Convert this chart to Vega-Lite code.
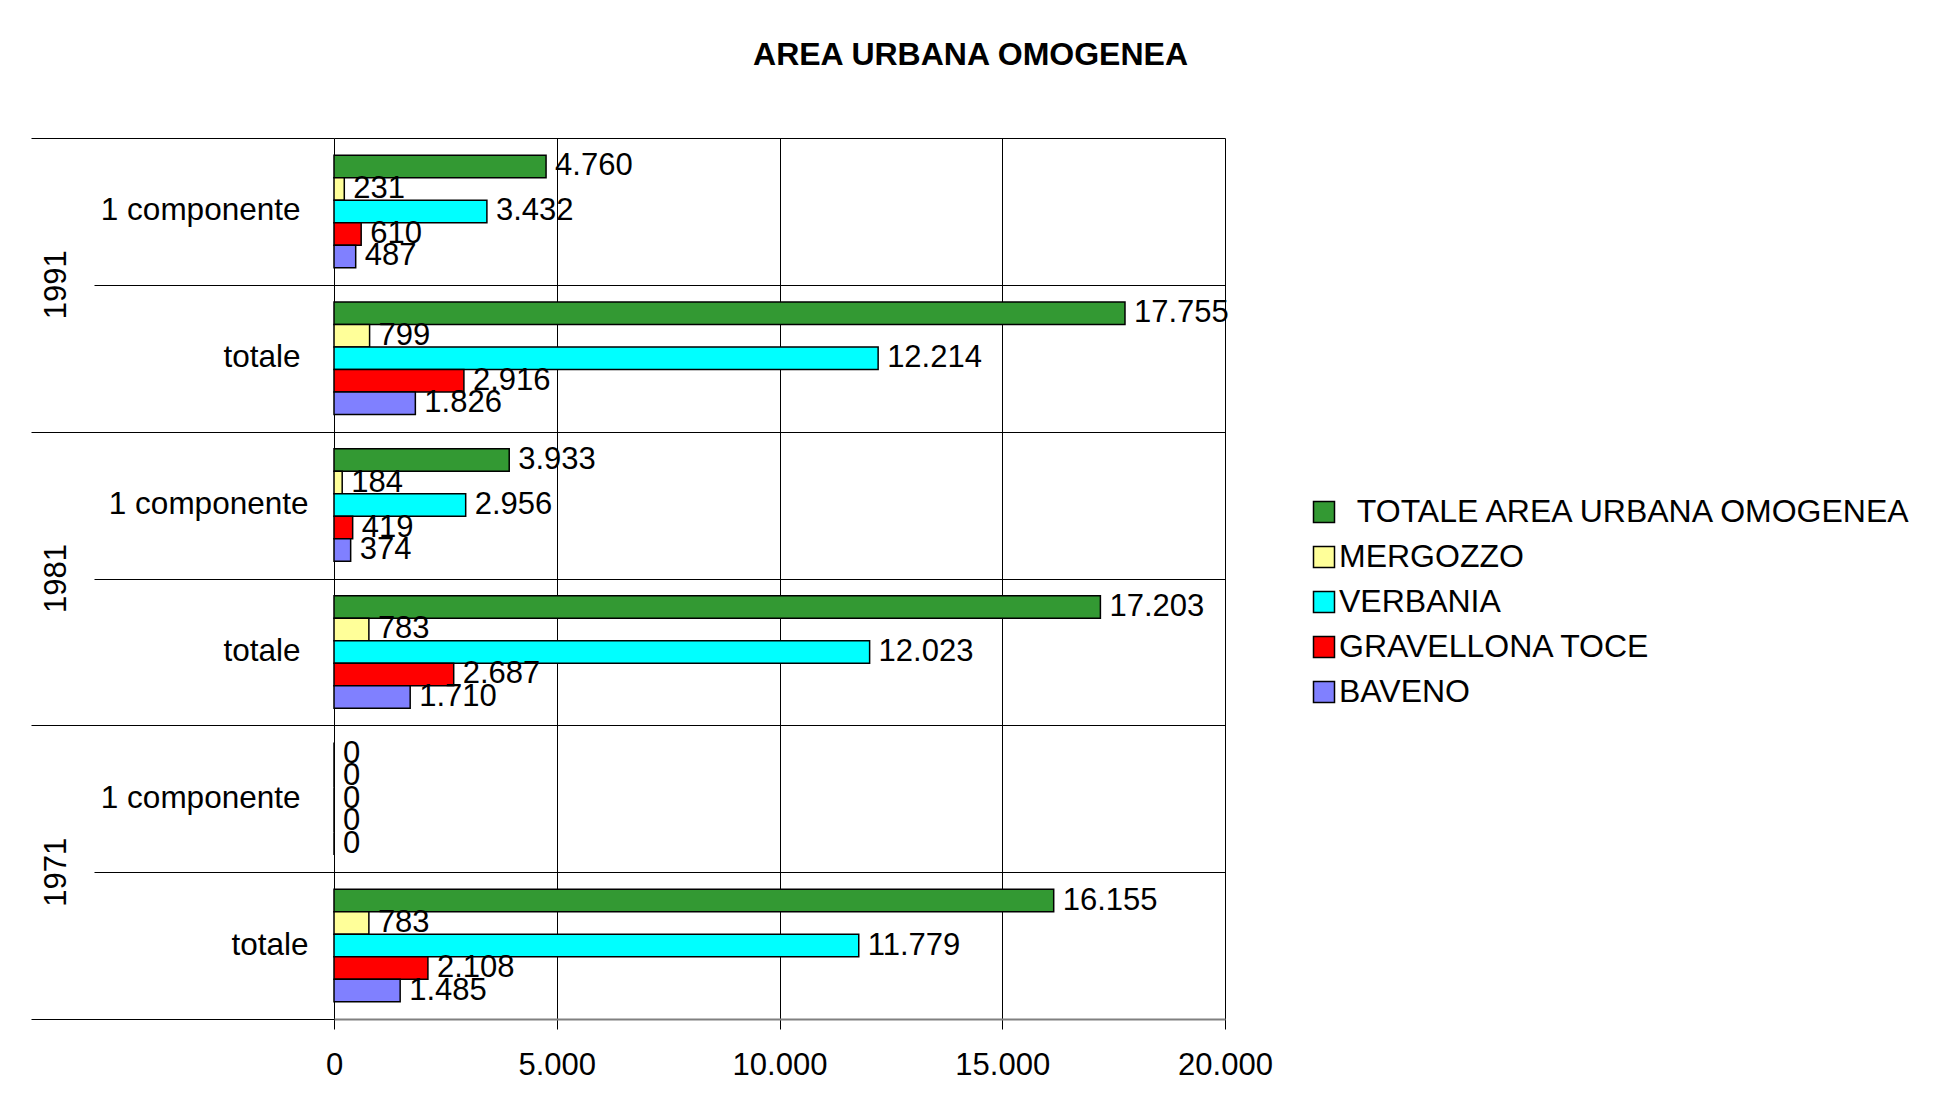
{
  "$schema": "https://vega.github.io/schema/vega-lite/v6.json",
  "autosize": "none",
  "width": 891,
  "height": 881,
  "padding": {"left": 334, "top": 138, "right": 712, "bottom": 90},
  "background": "white",
  "title": {
    "text": "AREA URBANA OMOGENEA",
    "font": "Liberation Sans",
    "fontSize": 32,
    "fontWeight": "bold",
    "color": "black",
    "anchor": "middle",
    "frame": "group",
    "dx": 191,
    "baseline": "middle",
    "offset": 51
  },
  "config": {
    "locale": {"number": {"decimal": ",", "thousands": ".", "grouping": [3], "currency": ["", " €"]}},
    "view": {"stroke": null},
    "font": "Liberation Sans"
  },
  "data": {
    "values": [
      {"key": "1991|1 componente", "serie": "TOTALE AREA URBANA OMOGENEA", "valore": 4760},
      {"key": "1991|1 componente", "serie": "MERGOZZO", "valore": 231},
      {"key": "1991|1 componente", "serie": "VERBANIA", "valore": 3432},
      {"key": "1991|1 componente", "serie": "GRAVELLONA TOCE", "valore": 610},
      {"key": "1991|1 componente", "serie": "BAVENO", "valore": 487},
      {"key": "1991|totale", "serie": "TOTALE AREA URBANA OMOGENEA", "valore": 17755},
      {"key": "1991|totale", "serie": "MERGOZZO", "valore": 799},
      {"key": "1991|totale", "serie": "VERBANIA", "valore": 12214},
      {"key": "1991|totale", "serie": "GRAVELLONA TOCE", "valore": 2916},
      {"key": "1991|totale", "serie": "BAVENO", "valore": 1826},
      {"key": "1981|1 componente", "serie": "TOTALE AREA URBANA OMOGENEA", "valore": 3933},
      {"key": "1981|1 componente", "serie": "MERGOZZO", "valore": 184},
      {"key": "1981|1 componente", "serie": "VERBANIA", "valore": 2956},
      {"key": "1981|1 componente", "serie": "GRAVELLONA TOCE", "valore": 419},
      {"key": "1981|1 componente", "serie": "BAVENO", "valore": 374},
      {"key": "1981|totale", "serie": "TOTALE AREA URBANA OMOGENEA", "valore": 17203},
      {"key": "1981|totale", "serie": "MERGOZZO", "valore": 783},
      {"key": "1981|totale", "serie": "VERBANIA", "valore": 12023},
      {"key": "1981|totale", "serie": "GRAVELLONA TOCE", "valore": 2687},
      {"key": "1981|totale", "serie": "BAVENO", "valore": 1710},
      {"key": "1971|1 componente", "serie": "TOTALE AREA URBANA OMOGENEA", "valore": 0},
      {"key": "1971|1 componente", "serie": "MERGOZZO", "valore": 0},
      {"key": "1971|1 componente", "serie": "VERBANIA", "valore": 0},
      {"key": "1971|1 componente", "serie": "GRAVELLONA TOCE", "valore": 0},
      {"key": "1971|1 componente", "serie": "BAVENO", "valore": 0},
      {"key": "1971|totale", "serie": "TOTALE AREA URBANA OMOGENEA", "valore": 16155},
      {"key": "1971|totale", "serie": "MERGOZZO", "valore": 783},
      {"key": "1971|totale", "serie": "VERBANIA", "valore": 11779},
      {"key": "1971|totale", "serie": "GRAVELLONA TOCE", "valore": 2108},
      {"key": "1971|totale", "serie": "BAVENO", "valore": 1485}
    ]
  },
  "encoding": {
    "y": {
      "field": "key",
      "type": "nominal",
      "sort": ["1991|1 componente", "1991|totale", "1981|1 componente", "1981|totale", "1971|1 componente", "1971|totale"],
      "scale": {"paddingInner": 0, "paddingOuter": 0}
    },
    "yOffset": {
      "field": "serie",
      "type": "nominal",
      "sort": ["TOTALE AREA URBANA OMOGENEA", "MERGOZZO", "VERBANIA", "GRAVELLONA TOCE", "BAVENO"],
      "scale": {"paddingInner": 0, "paddingOuter": 0.763}
    },
    "x": {
      "field": "valore",
      "type": "quantitative",
      "scale": {"domain": [0, 20000], "nice": false},
      "axis": {
        "title": null,
        "values": [0, 5000, 10000, 15000, 20000],
        "format": ",d",
        "grid": true,
        "gridColor": "black",
        "gridWidth": 1,
        "gridOpacity": 1,
        "domain": true,
        "domainColor": "#808080",
        "domainWidth": 2,
        "ticks": true,
        "tickColor": "black",
        "tickSize": 10,
        "labelFontSize": 31,
        "labelColor": "black",
        "labelPadding": 21,
        "labelFlush": false
      }
    }
  },
  "layer": [
    {
      "mark": {"type": "bar", "stroke": "black", "strokeWidth": 1.5},
      "encoding": {
        "y": {
          "field": "key",
          "type": "nominal",
          "sort": ["1991|1 componente", "1991|totale", "1981|1 componente", "1981|totale", "1971|1 componente", "1971|totale"],
          "axis": {
            "orient": "left",
            "title": null,
            "labels": false,
            "domain": false,
            "tickBand": "extent",
            "grid": true,
            "gridColor": "black",
            "gridWidth": 1,
            "gridOpacity": 1,
            "ticks": true,
            "tickColor": "black",
            "tickWidth": 1,
            "tickSize": {"condition": {"test": "indexof(datum.value || '', 'componente') >= 0", "value": 240}, "value": 303}
          }
        },
        "color": {
          "field": "serie",
          "type": "nominal",
          "sort": ["TOTALE AREA URBANA OMOGENEA", "MERGOZZO", "VERBANIA", "GRAVELLONA TOCE", "BAVENO"],
          "scale": {
            "domain": ["TOTALE AREA URBANA OMOGENEA", "MERGOZZO", "VERBANIA", "GRAVELLONA TOCE", "BAVENO"],
            "range": ["#339933", "#FFFF99", "#00FFFF", "#FF0000", "#8080FF"]
          },
          "legend": {
            "title": null,
            "orient": "none",
            "legendX": 974,
            "legendY": 358,
            "padding": 0,
            "symbolType": "square",
            "symbolSize": 441,
            "symbolStrokeColor": "black",
            "symbolStrokeWidth": 1.5,
            "symbolOpacity": 1,
            "labelFontSize": 32,
            "labelColor": "black",
            "labelOffset": -1,
            "labelLimit": 0,
            "rowPadding": 13,
            "labelExpr": "indexof(datum.label, 'TOTALE') == 0 ? '\u200b\u00a0\u00a0' + datum.label : datum.label"
          }
        }
      }
    },
    {
      "mark": {"type": "text", "align": "left", "baseline": "middle", "dx": 9, "fontSize": 31, "color": "black"},
      "encoding": {
        "y": {
          "field": "key",
          "type": "nominal",
          "sort": ["1991|1 componente", "1991|totale", "1981|1 componente", "1981|totale", "1971|1 componente", "1971|totale"],
          "axis": {
            "orient": "left",
            "title": null,
            "domain": false,
            "ticks": false,
            "grid": false,
            "labelFontSize": 31.5,
            "labelColor": "black",
            "labelPadding": {"condition": {"test": "datum.value == '1981|1 componente' || datum.value == '1971|totale'", "value": 26}, "value": 34},
            "labelLimit": 0,
            "labelExpr": "split(datum.value, '|')[1]"
          }
        },
        "text": {"field": "valore", "type": "quantitative", "format": ",d"}
      }
    },
    {
      "mark": {"type": "bar", "opacity": 0},
      "encoding": {
        "y": {
          "field": "key",
          "type": "nominal",
          "sort": ["1991|1 componente", "1991|totale", "1981|1 componente", "1981|totale", "1971|1 componente", "1971|totale"],
          "axis": {
            "orient": "left",
            "title": null,
            "domain": false,
            "ticks": false,
            "grid": false,
            "labelFontSize": 31,
            "labelColor": "black",
            "labelAngle": 270,
            "labelAlign": "center",
            "labelBaseline": "middle",
            "labelPadding": 278,
            "labelOffset": 73.4,
            "labelLimit": 0,
            "labelExpr": "indexof(datum.value, 'componente') >= 0 ? split(datum.value, '|')[0] : ''"
          }
        }
      }
    }
  ],
  "resolve": {"scale": {"y": "shared"}, "axis": {"y": "independent"}}
}
